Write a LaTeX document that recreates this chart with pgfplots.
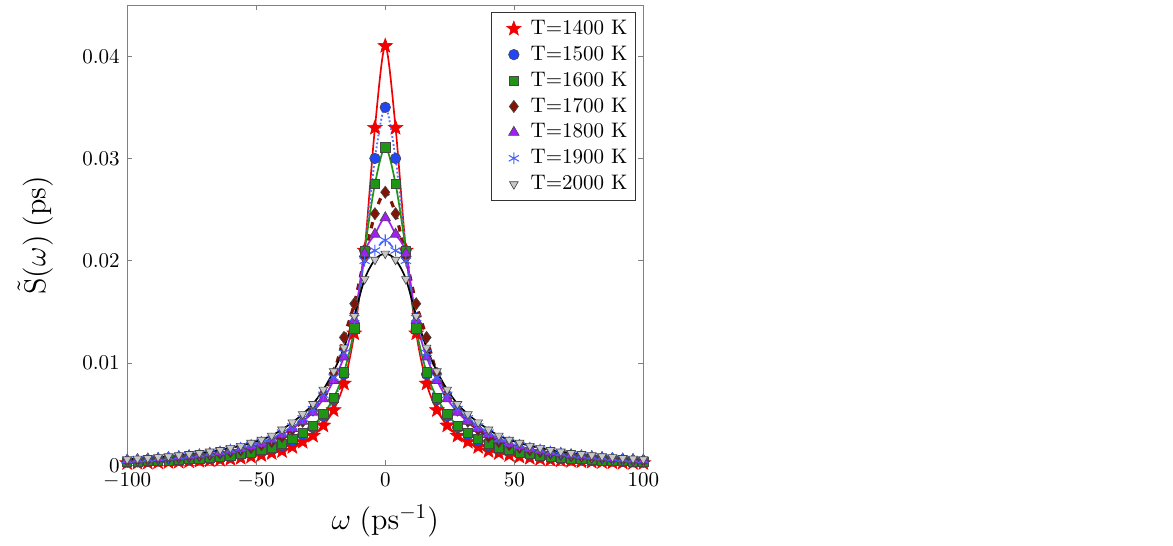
\documentclass[border=0pt]{standalone}
\usepackage{pgfplots}
\usepackage{pgfplotstable}
\pgfplotsset{compat=1.18}
\pgfdeclareplotmark{fstar}{%
  \pgfpathmoveto{\pgfpointpolar{90}{\pgfplotmarksize}}%
  \pgfpathlineto{\pgfpointpolar{126}{0.42\pgfplotmarksize}}%
  \pgfpathlineto{\pgfpointpolar{162}{\pgfplotmarksize}}%
  \pgfpathlineto{\pgfpointpolar{198}{0.42\pgfplotmarksize}}%
  \pgfpathlineto{\pgfpointpolar{234}{\pgfplotmarksize}}%
  \pgfpathlineto{\pgfpointpolar{270}{0.42\pgfplotmarksize}}%
  \pgfpathlineto{\pgfpointpolar{306}{\pgfplotmarksize}}%
  \pgfpathlineto{\pgfpointpolar{342}{0.42\pgfplotmarksize}}%
  \pgfpathlineto{\pgfpointpolar{18}{\pgfplotmarksize}}%
  \pgfpathlineto{\pgfpointpolar{54}{0.42\pgfplotmarksize}}%
  \pgfpathclose\pgfusepathqfillstroke}
\definecolor{cred}{RGB}{240,0,0}
\definecolor{cblue}{RGB}{35,70,245}
\definecolor{cblueL}{RGB}{90,120,255}
\definecolor{cgreen}{RGB}{30,150,20}
\definecolor{cbrown}{RGB}{130,20,5}
\definecolor{cpurple}{RGB}{160,32,240}
\definecolor{cstar}{RGB}{70,100,255}
\definecolor{cgray}{RGB}{200,200,200}
\definecolor{cedge}{RGB}{70,70,70}
\pgfplotstableread{
x a b c d e f g
-100 0.00022 0.00031 0.00034 0.00046 0.00050 0.00053 0.00059
-96 0.00024 0.00034 0.00037 0.00051 0.00055 0.00059 0.00065
-92 0.00026 0.00038 0.00041 0.00056 0.00061 0.00065 0.00072
-88 0.00029 0.00042 0.00045 0.00062 0.00067 0.00072 0.00080
-84 0.00032 0.00046 0.00050 0.00069 0.00075 0.00080 0.00089
-80 0.00035 0.00051 0.00055 0.00077 0.00083 0.00089 0.00099
-76 0.00039 0.00057 0.00062 0.00085 0.00092 0.00099 0.0011
-72 0.00044 0.00063 0.00068 0.00093 0.00101 0.00109 0.0012
-68 0.00049 0.00071 0.00077 0.00105 0.00114 0.00122 0.00135
-64 0.00055 0.00079 0.00085 0.00117 0.00126 0.00136 0.0015
-60 0.00063 0.00090 0.00097 0.00133 0.00143 0.00154 0.0017
-56 0.00073 0.00102 0.00110 0.00149 0.00161 0.00172 0.0019
-52 0.00085 0.0012 0.00128 0.00173 0.00186 0.0020 0.0022
-48 0.0010 0.0014 0.0015 0.0020 0.0021 0.0023 0.0025
-44 0.0012 0.0016 0.0017 0.0023 0.0025 0.0026 0.0029
-40 0.0014 0.0019 0.0021 0.0028 0.0030 0.0032 0.0035
-36 0.0018 0.0024 0.0026 0.0035 0.0036 0.0038 0.0042
-32 0.0023 0.0030 0.0032 0.0043 0.0043 0.0046 0.0050
-28 0.0029 0.0037 0.0039 0.0054 0.0052 0.0055 0.0060
-24 0.0039 0.0048 0.0050 0.0070 0.0065 0.0069 0.0074
-20 0.0054 0.0064 0.0066 0.0090 0.0083 0.0086 0.0092
-16 0.0080 0.0089 0.0091 0.0125 0.0106 0.0110 0.0115
-12 0.0129 0.0133 0.0134 0.0158 0.0142 0.0144 0.0146
-8 0.0210 0.0210 0.0210 0.0203 0.0207 0.0200 0.0182
-4 0.0330 0.0300 0.0275 0.0246 0.0226 0.0210 0.0201
0 0.0410 0.0350 0.0311 0.0267 0.0242 0.0220 0.0207
4 0.0330 0.0300 0.0275 0.0246 0.0226 0.0210 0.0201
8 0.0210 0.0210 0.0210 0.0203 0.0207 0.0200 0.0182
12 0.0129 0.0133 0.0134 0.0158 0.0142 0.0144 0.0146
16 0.0080 0.0089 0.0091 0.0125 0.0106 0.0110 0.0115
20 0.0054 0.0064 0.0066 0.0090 0.0083 0.0086 0.0092
24 0.0039 0.0048 0.0050 0.0070 0.0065 0.0069 0.0074
28 0.0029 0.0037 0.0039 0.0054 0.0052 0.0055 0.0060
32 0.0023 0.0030 0.0032 0.0043 0.0043 0.0046 0.0050
36 0.0018 0.0024 0.0026 0.0035 0.0036 0.0038 0.0042
40 0.0014 0.0019 0.0021 0.0028 0.0030 0.0032 0.0035
44 0.0012 0.0016 0.0017 0.0023 0.0025 0.0026 0.0029
48 0.0010 0.0014 0.0015 0.0020 0.0021 0.0023 0.0025
52 0.00085 0.0012 0.00128 0.00173 0.00186 0.0020 0.0022
56 0.00073 0.00102 0.00110 0.00149 0.00161 0.00172 0.0019
60 0.00063 0.00090 0.00097 0.00133 0.00143 0.00154 0.0017
64 0.00055 0.00079 0.00085 0.00117 0.00126 0.00136 0.0015
68 0.00049 0.00071 0.00077 0.00105 0.00114 0.00122 0.00135
72 0.00044 0.00063 0.00068 0.00093 0.00101 0.00109 0.0012
76 0.00039 0.00057 0.00062 0.00085 0.00092 0.00099 0.0011
80 0.00035 0.00051 0.00055 0.00077 0.00083 0.00089 0.00099
84 0.00032 0.00046 0.00050 0.00069 0.00075 0.00080 0.00089
88 0.00029 0.00042 0.00045 0.00062 0.00067 0.00072 0.00080
92 0.00026 0.00038 0.00041 0.00056 0.00061 0.00065 0.00072
96 0.00024 0.00034 0.00037 0.00051 0.00055 0.00059 0.00065
100 0.00022 0.00031 0.00034 0.00046 0.00050 0.00053 0.00059
}\datatable
\begin{document}
\begin{tikzpicture}
\useasboundingbox (-60.5pt,-38pt) rectangle (497.6pt,221.4pt);
\begin{axis}[
  scale only axis,
  width=245.6pt, height=219pt,
  at={(0,0)}, anchor=south west,
  xmin=-100, xmax=100, ymin=0, ymax=0.045,
  xtick={-100,-50,0,50,100},
  ytick={0,0.01,0.02,0.03,0.04},
  yticklabels={0,0.01,0.02,0.03,0.04},
  scaled y ticks=false,
  tick align=inside,
  major tick length=2.5pt,
  axis line style={draw=black!50},
  every tick/.style={black!50},
  xlabel={$\omega\;(\mathrm{ps}^{-1})$},
  ylabel={$\tilde{\mathrm{S}}(\omega)\;(\mathrm{ps})$},
  label style={font=\Large},
  xlabel style={at={(axis description cs:0.5,-0.12)}, anchor=center},
  ylabel style={at={(axis description cs:-0.178,0.5)}, anchor=center, rotate=0},
  legend style={at={(1,1)}, anchor=north east, xshift=-3.8pt, yshift=-3.4pt,
    draw=black!80, fill=white, font=\normalsize, inner sep=1.5pt,
    cells={anchor=west}},
  legend cell align=left,
  legend image code/.code={%
    \path[draw=none,fill=none] (-9pt,0pt) -- (6pt,0pt);
    \draw[#1] plot coordinates {(0pt,0pt)};},
]
% 1400
\addplot[only marks, mark=fstar, mark size=3.6pt, mark options={fill=cred, draw=cred, line width=0.3pt}] table[x=x,y=a]{\datatable};
\addlegendentry{T=1400 K}
\addplot[cred, line width=0.8pt, smooth, forget plot] table[x=x,y=a]{\datatable};
% 1500
\addplot[only marks, mark=*, mark size=2.5pt, mark options={fill=cblue, draw=cedge, line width=0.3pt}] table[x=x,y=b]{\datatable};
\addlegendentry{T=1500 K}
\addplot[cblueL, line width=0.9pt, densely dotted, smooth, forget plot] table[x=x,y=b]{\datatable};
% 1600
\addplot[only marks, mark=square*, mark size=2.2pt, mark options={fill=cgreen, draw=cedge, line width=0.3pt}] table[x=x,y=c]{\datatable};
\addlegendentry{T=1600 K}
\addplot[cgreen, line width=0.8pt, smooth, forget plot] table[x=x,y=c]{\datatable};
% 1700
\addplot[only marks, mark=diamond*, mark size=2.9pt, mark options={fill=cbrown, draw=cedge, line width=0.3pt}] table[x=x,y=d]{\datatable};
\addlegendentry{T=1700 K}
\addplot[cbrown, line width=1.5pt, dashed, smooth, forget plot] table[x=x,y=d]{\datatable};
% 1800
\addplot[only marks, mark=triangle*, mark size=2.9pt, mark options={fill=cpurple, draw=cedge, line width=0.3pt}] table[x=x,y=e]{\datatable};
\addlegendentry{T=1800 K}
\addplot[cpurple, line width=0.8pt, smooth, forget plot] table[x=x,y=e]{\datatable};
% 1900
\addplot[only marks, mark=asterisk, mark size=2.8pt, mark options={draw=cstar, line width=0.5pt}] table[x=x,y=f]{\datatable};
\addlegendentry{T=1900 K}
\addplot[cstar, line width=0.8pt, dashed, smooth, forget plot] table[x=x,y=f]{\datatable};
% 2000
\addplot[only marks, mark=triangle*, mark size=2.4pt, mark options={rotate=180, fill=cgray, draw=cedge, line width=0.3pt}] table[x=x,y=g]{\datatable};
\addlegendentry{T=2000 K}
\addplot[black, line width=0.8pt, smooth, forget plot] table[x=x,y=g]{\datatable};
\end{axis}
\end{tikzpicture}
\end{document}
